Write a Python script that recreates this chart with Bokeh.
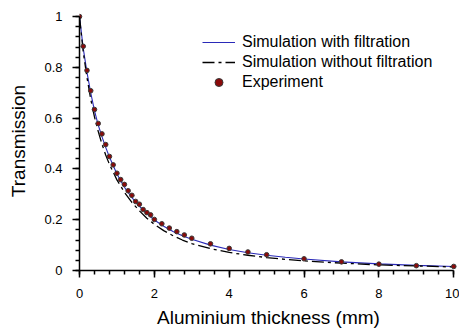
from bokeh.plotting import figure
from bokeh.models import (Range1d, SingleIntervalTicker, NumeralTickFormatter,
                          Legend, LegendItem)
from bokeh.embed import file_html
from bokeh.resources import INLINE

# Experimental data
exp_x = [0.0, 0.1, 0.2, 0.3, 0.4, 0.5, 0.6, 0.7, 0.8, 0.9, 1.0, 1.1, 1.2, 1.3,
         1.4, 1.5, 1.6, 1.7, 1.8, 1.9, 2.0, 2.2, 2.4, 2.6, 2.8, 3.0, 3.5, 4.0,
         4.5, 5.0, 6.0, 7.0, 8.0, 9.0, 10.0]
exp_y = [1.0, 0.883, 0.788, 0.708, 0.634, 0.579, 0.538, 0.496, 0.449, 0.416,
         0.383, 0.358, 0.339, 0.314, 0.296, 0.272, 0.261, 0.240, 0.228, 0.219,
         0.201, 0.184, 0.167, 0.153, 0.140, 0.127, 0.105, 0.087, 0.073, 0.062,
         0.046, 0.034, 0.025, 0.019, 0.016]

# Simulation curves
sim_x = [0.0, 0.1, 0.2, 0.3, 0.4, 0.5, 0.6, 0.7, 0.8, 1.0, 1.2, 1.4, 1.6, 1.8,
         2.0, 2.25, 2.5, 2.75, 3.0, 3.5, 4.0, 4.5, 5.0, 5.5, 6.0, 7.0, 8.0, 9.0,
         10.0]
sim_filt_y = [1.0, 0.875, 0.78, 0.70, 0.63, 0.573, 0.527, 0.485, 0.447, 0.38,
              0.328, 0.287, 0.253, 0.224, 0.199, 0.174, 0.154, 0.137, 0.123,
              0.100, 0.083, 0.070, 0.060, 0.052, 0.045, 0.034, 0.026, 0.020,
              0.016]
sim_nofilt_y = [1.0, 0.86, 0.76, 0.675, 0.605, 0.548, 0.498, 0.455, 0.418,
                0.357, 0.308, 0.268, 0.235, 0.206, 0.182, 0.157, 0.137, 0.120,
                0.106, 0.086, 0.071, 0.060, 0.051, 0.044, 0.038, 0.029, 0.022,
                0.018, 0.014]

labels = ["Simulation with filtration", "Simulation without filtration",
          "Experiment"]

FONT = "Liberation Sans"

p = figure(width=459, height=330, output_backend="svg", toolbar_location=None,
           x_range=Range1d(0, 10.1), y_range=Range1d(0, 1.02),
           min_border_left=79, min_border_right=2, min_border_top=11,
           min_border_bottom=57)
p.outline_line_color = None
p.grid.visible = False
p.background_fill_color = "white"
p.border_fill_color = "white"

r1 = p.line(sim_x, sim_filt_y, line_color="#2a2ab8", line_width=1.1)
r2 = p.line(sim_x, sim_nofilt_y, line_color="black", line_width=1.3,
            line_dash="12 4 3 4")
r3 = p.scatter(exp_x, exp_y, size=4.6, fill_color="#8b0a0a",
               line_color="#3a3a3a", line_width=1)

for ax in (p.xaxis[0], p.yaxis[0]):
    ax.axis_line_width = 1.5
    ax.axis_line_color = "black"
    ax.major_tick_line_width = 1.5
    ax.minor_tick_line_width = 1.5
    ax.major_tick_line_color = "black"
    ax.minor_tick_line_color = "black"
    ax.major_tick_in = 0
    ax.major_tick_out = 7
    ax.minor_tick_in = 0
    ax.minor_tick_out = 4
    ax.major_label_text_font = FONT
    ax.major_label_text_font_size = "13px"
    ax.major_label_text_color = "black"
    ax.axis_label_text_font = FONT
    ax.axis_label_text_font_size = "19px"
    ax.axis_label_text_font_style = "normal"
    ax.axis_label_text_color = "black"

xa = p.xaxis[0]
xa.ticker = SingleIntervalTicker(interval=2, num_minor_ticks=5)
xa.bounds = (0, 10)
xa.axis_label = "Aluminium thickness (mm)"
xa.major_label_standoff = 11
xa.axis_label_standoff = 6

ya = p.yaxis[0]
ya.ticker = SingleIntervalTicker(interval=0.2, num_minor_ticks=5)
ya.formatter = NumeralTickFormatter(format="0.[0]")
ya.bounds = (0, 1)
ya.axis_label = "Transmission"
ya.major_label_standoff = 10
ya.axis_label_standoff = 12

legend = Legend(items=[LegendItem(label=labels[0], renderers=[r1]),
                       LegendItem(label=labels[1], renderers=[r2]),
                       LegendItem(label=labels[2], renderers=[r3])],
                location=(123, 178))
legend.margin = 0
legend.padding = 0
legend.spacing = 0
legend.border_line_color = None
legend.background_fill_alpha = 0
legend.glyph_width = 33
legend.glyph_height = 20
legend.label_height = 20
legend.label_standoff = 7
legend.label_text_font = FONT
legend.label_text_font_size = "16px"
legend.label_text_color = "black"
p.add_layout(legend, "center")

open("out.html", "w").write(file_html(p, INLINE))
